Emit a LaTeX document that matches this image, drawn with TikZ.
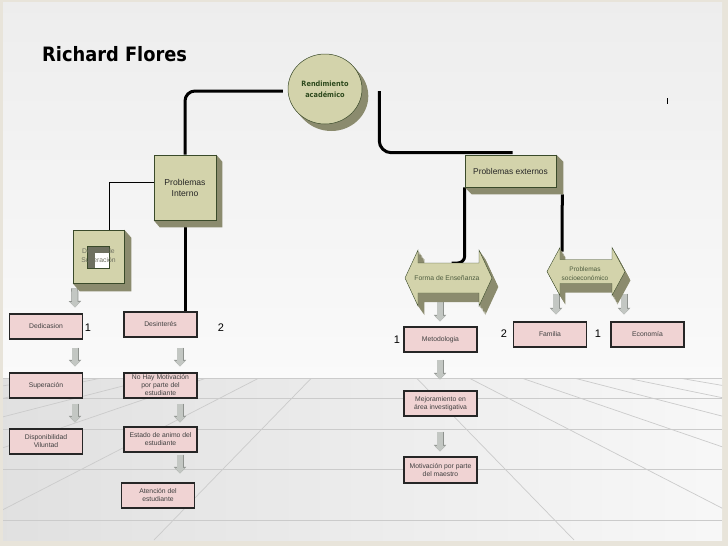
\documentclass[tikz,border=0pt]{standalone}
\usepackage{fontspec}
\setmainfont{Liberation Sans}
\newfontfamily\titlefont{DejaVu Sans Condensed}
\usetikzlibrary{calc,shapes.geometric,arrows.meta}

\definecolor{olivefill}{HTML}{D3D3AB}
\definecolor{oliveshade}{HTML}{8B8B6E}
\definecolor{olivedraw}{HTML}{3A4A2A}
\definecolor{pinkfill}{HTML}{F0D3D3}
\definecolor{arrowfill}{HTML}{C3C7C3}
\definecolor{arrowdraw}{HTML}{8E928E}
\definecolor{floorline}{HTML}{CBCBCB}
\definecolor{framec}{HTML}{E8E4DA}
\definecolor{textgreen}{HTML}{2E4A1E}
\definecolor{squaredark}{HTML}{6E7060}

\pgfdeclarelayer{background}
\pgfdeclarelayer{lines}
\pgfdeclarelayer{shades}
\pgfsetlayers{background,lines,shades,main}

\tikzset{
  mainline/.style={line width=3pt},
  thinline/.style={line width=1pt},
  probbox/.style={rectangle,draw=olivedraw,fill=olivefill,line width=0.6pt,inner sep=0pt,align=center,text=black!85,font=\fontsize{8.6}{11}\selectfont},
  pinkbox/.style={rectangle,draw=black!85,fill=pinkfill,line width=1.1pt,minimum width=73pt,minimum height=25pt,inner sep=0pt,align=center,text=black!75,font=\fontsize{6.8}{8}\selectfont},
  arrtext/.style={inner sep=0pt,align=center,text=olivedraw!90,font=\fontsize{6.8}{9}\selectfont},
  numlabel/.style={inner sep=0pt,font=\fontsize{11}{11}\selectfont},
  garrow/.style={line width=5.5pt,draw=arrowfill,-{Triangle[width=10pt,length=5.5pt,line width=0pt]},
    preaction={draw=arrowdraw,line width=7pt,-{Triangle[width=12.5pt,length=6.5pt,line width=0pt]}}},
}

\newcommand{\extrude}[3]{\begin{pgfonlayer}{shades}
  \fill[oliveshade] (#1.north east) -- ++(#2,#3) -- ($(#1.south east)+(#2,#3)$) -- ($(#1.south west)+(#2,#3)$) -- (#1.south west) -- (#1.south east) -- cycle;
  \end{pgfonlayer}}
\newcommand{\dblarrow}[7]{\path[#7] (#1-#3,#2) -- (#1-#3+#6,#2-#4) -- (#1-#3+#6,#2-#5) -- (#1+#3-#6,#2-#5) -- (#1+#3-#6,#2-#4) -- (#1+#3,#2) -- (#1+#3-#6,#2+#4) -- (#1+#3-#6,#2+#5) -- (#1-#3+#6,#2+#5) -- (#1-#3+#6,#2+#4) -- cycle;}

\begin{document}
\begin{tikzpicture}[x=1pt,y=-1pt]
    \useasboundingbox (0,0) rectangle (728,546);
    \begin{pgfonlayer}{background}
        \fill[framec] (0,0) rectangle (728,546);
        \shade[top color=black!7, bottom color=black!2] (3,2) rectangle (722,378);
        \shade[left color=black!12, right color=black!3] (3,378) rectangle (722,540);
        \foreach \y in {378,398,429,469,520}
            \draw[floorline] (3,\y) -- (722,\y);
        \begin{scope}
            \clip (3,378) rectangle (722,540);
            \foreach \k in {-6,...,-1,1,2,...,6}
                \draw[floorline,line width=0.7pt] (364,324) -- ($(364,324)!4!({364+52.5*\k},378)$);
        \end{scope}
    \end{pgfonlayer}

    \node at (42,61) [anchor=base west,inner sep=0pt,font=\titlefont\bfseries\fontsize{19.8}{21}\selectfont] (title) {Richard Flores};
    \draw[line width=0.8pt] (667,98) -- (667,104);

    \foreach \k in {1,...,7}
        \fill[oliveshade] ({325+0.9*\k},{89+\k}) ellipse [x radius=37, y radius=35];
    \node at (325,89) [ellipse,draw=olivedraw,fill=olivefill,line width=0.5pt,minimum width=74pt,minimum height=70pt,inner sep=0pt,align=center,text=textgreen,font=\titlefont\bfseries\fontsize{7.3}{11}\selectfont] (rend) {Rendimiento\\académico};

    \node at (185,187.5) [probbox,minimum width=62pt,minimum height=65pt] (interno) {Problemas\\Interno};
    \extrude{interno}{6}{7}
    \node at (510.5,171) [probbox,minimum width=91pt,minimum height=32pt,font=\fontsize{8.4}{10}\selectfont] (extern) {Problemas externos};
    \extrude{extern}{7}{7}
    \node at (98.5,256.5) [probbox,minimum width=51pt,minimum height=53pt,text=squaredark,font=\fontsize{6.8}{9}\selectfont,
        path picture={
            \fill[squaredark] ($(path picture bounding box.center)+(-11.5,-10.5)$) rectangle +(22,22);
            \fill[white] ($(path picture bounding box.center)+(-3.5,-3.5)$) rectangle +(14,15);
            \draw[olivedraw,line width=0.5pt] ($(path picture bounding box.center)+(-11.5,-10.5)$) rectangle +(22,22);
        }] (deseos) {Deseos de\\Superación};
    \extrude{deseos}{7}{8}

    \foreach \k in {1,...,9}
        {\dblarrow{448.5}{278}{43.5}{28}{15}{13}{fill=oliveshade,shift={(0.7*\k,\k)}}}
    \dblarrow{448.5}{278}{43.5}{28}{15}{13}{fill=olivefill,draw=olivedraw,line width=0.4pt}
    \coordinate (forma) at (448.5,278);
    \node at (447,278.5) [arrtext] (formatxt) {Forma de Enseñanza};
    \foreach \k in {1,...,9}
        {\dblarrow{586}{271.5}{39}{24}{12}{13}{fill=oliveshade,shift={(0.6*\k,\k)}}}
    \dblarrow{586}{271.5}{39}{24}{12}{13}{fill=olivefill,draw=olivedraw,line width=0.4pt}
    \coordinate (socio) at (586,271.5);
    \node at (585,273.5) [arrtext,font=\fontsize{6.5}{9}\selectfont] (sociotxt) {Problemas\\socioeconómico};

    \node at (46,326.5) [pinkbox] (dedic) {Dedicasion};
    \node at (160.5,324.5) [pinkbox] (desint) {Desinterés};
    \node at (46,385.5) [pinkbox] (super) {Superación};
    \node at (160.5,385.5) [pinkbox] (nohay) {No Hay Motivación\\por parte del\\estudiante};
    \node at (46,441.5) [pinkbox] (dispon) {Disponibilidad\\Viluntad};
    \node at (160.5,439.5) [pinkbox] (estado) {Estado de animo del\\estudiante};
    \node at (158,495.5) [pinkbox] (atenc) {Atención del\\estudiante};
    \node at (440.5,339.5) [pinkbox] (metod) {Metodologia};
    \node at (550,334.5) [pinkbox] (famil) {Familia};
    \node at (647.5,334.5) [pinkbox] (econ) {Economía};
    \node at (440.5,403.5) [pinkbox] (mejora) {Mejoramiento en\\área investigativa};
    \node at (440.5,470) [pinkbox,minimum height=26pt] (motiv) {Motivación por parte\\del maestro};

    \node at (88,327.5) [numlabel] (numa) {1};
    \node at (221,327.5) [numlabel] (numb) {2};
    \node at (397,339.5) [numlabel] (numc) {1};
    \node at (504,333.5) [numlabel] (numd) {2};
    \node at (598,333.5) [numlabel] (nume) {1};

    \begin{pgfonlayer}{lines}
        \draw[mainline,rounded corners=10] ($(rend.west)+(-5,2)$) -| (interno.north);
        \draw[mainline,rounded corners=12] ($(rend.east)+(17,2)$) |- ($(extern.north)+(2,-2)$);
        \draw[mainline] (interno.south) -- (interno.south |- desint.north);
        \draw[thinline] ($(interno.west)+(0,-5.5)$) -| ($(deseos.north)+(10.5,0)$);
        \draw[mainline,rounded corners=7] (extern.south west) |- ($(forma)+(3,-15)$);
        \draw[mainline] ($(extern.south east)+(6,7)$) -- ($(socio)+(-24,-20)$);

        \draw[garrow] ($(deseos.south west)+(2,5)$) -- ($(dedic.north)+(29,-6)$);
        \draw[garrow] ($(dedic.south)+(29,8)$) -- ($(super.north)+(29,-6)$);
        \draw[garrow] ($(super.south)+(29,5)$) -- ($(dispon.north)+(29,-6)$);
        \draw[garrow] ($(desint.south)+(19.5,10)$) -- ($(nohay.north)+(19.5,-6)$);
        \draw[garrow] ($(nohay.south)+(19.5,5)$) -- ($(estado.north)+(19.5,-4)$);
        \draw[garrow] ($(estado.south)+(19.5,2)$) -- ($(atenc.north)+(22,-9)$);
        \draw[garrow] ($(forma)+(-8.5,20)$) -- ($(metod.north)+(-0.5,-5)$);
        \draw[garrow] ($(socio)+(-30,22)$) -- ($(famil.north)+(6,-7)$);
        \draw[garrow] ($(socio)+(38,22)$) -- ($(econ.north)+(-23.5,-7)$);
        \draw[garrow] ($(metod.south)+(-0.5,7)$) -- ($(mejora.north)+(-0.5,-11)$);
        \draw[garrow] ($(mejora.south)+(-0.5,15)$) -- ($(motiv.north)+(-0.5,-5)$);
    \end{pgfonlayer}
\end{tikzpicture}
\end{document}
